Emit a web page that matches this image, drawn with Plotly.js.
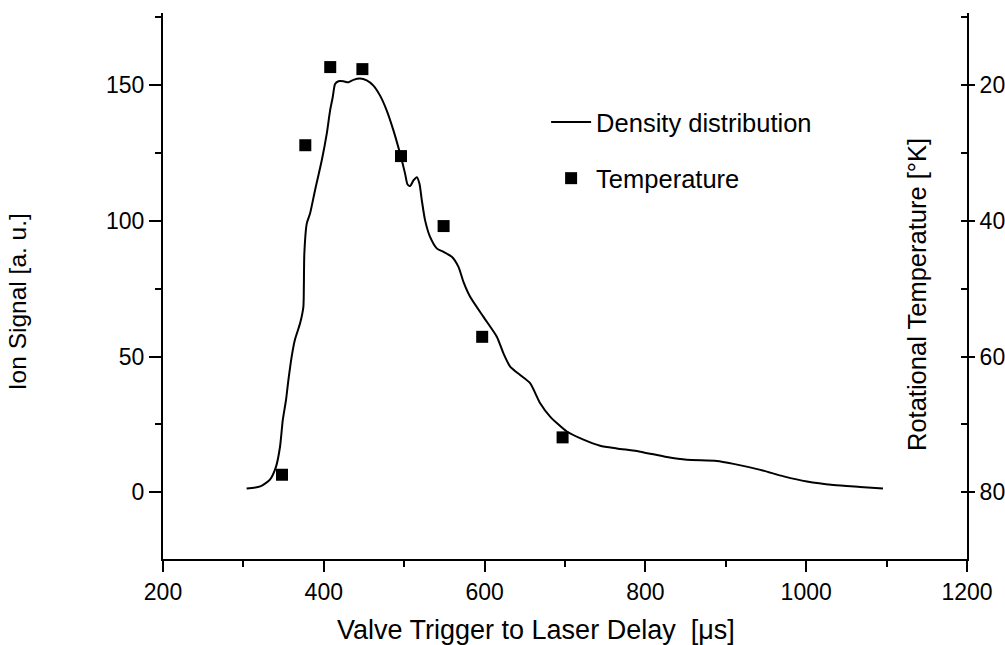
<!DOCTYPE html>
<html>
<head>
<meta charset="utf-8">
<script src="https://cdn.plot.ly/plotly-3.0.1.min.js"></script>
<style>
  html, body { margin: 0; padding: 0; background: #fff; }
  #chart { width: 1005px; height: 645px; }
</style>
</head>
<body>
<div id="chart"></div>
<script>
// Density distribution (ion signal, left axis)
const densityDelay = [304, 321, 333, 340.6, 345.6, 349, 353, 356, 360, 364, 370.5, 374.6, 375.2, 375.8,
  378.8, 382.9, 389.1, 397.5, 403.7, 407.8, 411.1, 414, 418.1, 424.3, 430.6, 436.8, 445.1, 453.4,
  461.7, 470, 478.3, 486.6, 494.9, 501.1, 504, 507.3, 511.5, 515.7, 519, 521.9, 526, 532.2, 540.5,
  548.8, 559.2, 567.5, 573.7, 582, 598.6, 615.2, 623.4, 631.8, 644.2, 656.6, 669.1, 681.5, 702.3,
  723, 743.7, 764.5, 793.5, 826.7, 851.6, 888.9, 909.6, 943, 972, 1000.9, 1034, 1067, 1095.5];
const densitySignal = [1.4, 2.2, 4.7, 9.5, 16.9, 26.7, 34, 41.4, 49.9, 56.1, 62.2, 68.3, 76, 87.9,
  98.9, 102.6, 111.2, 122.2, 132, 140.5, 145.4, 150.3, 151.3, 151.3, 150.9, 151.8, 152.3, 151.6,
  149.7, 146, 140.5, 133.2, 124.6, 117.3, 113.4, 112.7, 114.8, 116, 113.6, 107.5, 100.1, 94, 89.8,
  88.5, 86.7, 83, 77.5, 72, 64.6, 57.3, 51.2, 46.3, 43.2, 40.2, 32.8, 27.9, 22.4,
  19.4, 17.2, 16.2, 15, 13, 12, 11.6, 10.5, 8.3, 5.9, 4, 2.7, 2, 1.4];

// Rotational temperature (right axis, reversed)
const tempDelay = [348, 377, 408, 448, 496, 549, 597, 697];
const tempKelvin = [77.4, 28.9, 17.4, 17.7, 30.5, 40.8, 57.1, 71.9];

const xTitle = 'Valve Trigger to Laser Delay\u00a0 [\u03bcs]';
const yTitle = 'Ion Signal [a. u.]';
const y2Title = 'Rotational Temperature [\u00b0K]';
const seriesNames = ['Density distribution', 'Temperature'];

const FONT = 'Liberation Sans, Arial, Helvetica, sans-serif';

const traces = [
  {
    x: densityDelay, y: densitySignal, type: 'scatter', mode: 'lines',
    name: seriesNames[0], legendgroup: 'a',
    line: {color: '#000', width: 2, shape: 'spline', smoothing: 0.6},
    xaxis: 'x', yaxis: 'y', hoverinfo: 'skip'
  },
  {
    x: tempDelay, y: tempKelvin, type: 'scatter', mode: 'markers',
    name: seriesNames[1], legendgroup: 'b',
    marker: {symbol: 'square', size: 12, color: '#000'},
    xaxis: 'x', yaxis: 'y2', hoverinfo: 'skip'
  }
];

const axCommon = {
  showgrid: false, zeroline: false, showline: true,
  linecolor: '#000', linewidth: 2, tickcolor: '#000', tickwidth: 2,
  tickfont: {family: FONT, size: 23, color: '#000'}
};

const layout = {
  width: 1005, height: 645,
  margin: {l: 163, r: 38, t: 13, b: 86, pad: 0},
  paper_bgcolor: '#fff', plot_bgcolor: '#fff',
  font: {family: FONT, color: '#000'},
  showlegend: true,
  legend: {
    x: 0.4765, y: 0.8426, xanchor: 'left', yanchor: 'top',
    font: {family: FONT, size: 25.5, color: '#000'},
    bgcolor: 'rgba(0,0,0,0)', tracegroupgap: 20, itemwidth: 40
  },
  xaxis: Object.assign({}, axCommon, {
    range: [200, 1200], tick0: 200, dtick: 200,
    ticks: 'outside', ticklen: 11,
    minor: {dtick: 100, tick0: 200, ticks: 'outside', ticklen: 6, tickwidth: 2, tickcolor: '#000'},
    automargin: false
  }),
  xaxis2: Object.assign({}, axCommon, {
    range: [200, 1200], tick0: 200, dtick: 200, overlaying: 'x', side: 'top', anchor: 'y',
    ticks: 'inside', ticklen: 11, showticklabels: false,
    minor: {dtick: 100, tick0: 200, ticks: 'inside', ticklen: 6, tickwidth: 2, tickcolor: '#000'}
  }),
  yaxis: Object.assign({}, axCommon, {
    range: [-24.5, 176.4], tick0: 0, dtick: 50,
    ticks: 'outside', ticklen: 12,
    minor: {dtick: 25, tick0: 0, ticks: 'outside', ticklen: 6, tickwidth: 2, tickcolor: '#000'},
    automargin: false
  }),
  yaxis2: Object.assign({}, axCommon, {
    range: [89.8, 9.44], tick0: 0, dtick: 20, overlaying: 'y', side: 'right', anchor: 'x',
    ticks: 'outside', ticklen: 6,
    minor: {dtick: 10, tick0: 0, ticks: 'inside', ticklen: 6, tickwidth: 2, tickcolor: '#000'},
    automargin: false
  }),
  annotations: [
    {
      text: xTitle, xref: 'paper', yref: 'paper', x: 0.4635, y: -0.1294,
      xanchor: 'center', yanchor: 'middle', showarrow: false,
      font: {family: FONT, size: 27, color: '#000'}
    },
    {
      text: yTitle, xref: 'paper', yref: 'paper', x: -0.1817, y: 0.472,
      xanchor: 'center', yanchor: 'middle', textangle: -90, showarrow: false,
      font: {family: FONT, size: 24.5, color: '#000'}
    },
    {
      text: y2Title, xref: 'paper', yref: 'paper', x: 0.938, y: 0.4838,
      xanchor: 'center', yanchor: 'middle', textangle: -90, showarrow: false,
      font: {family: FONT, size: 25.5, color: '#000'}
    }
  ]
};

Plotly.newPlot('chart', traces, layout, {displayModeBar: false, staticPlot: true});
</script>
</body>
</html>
